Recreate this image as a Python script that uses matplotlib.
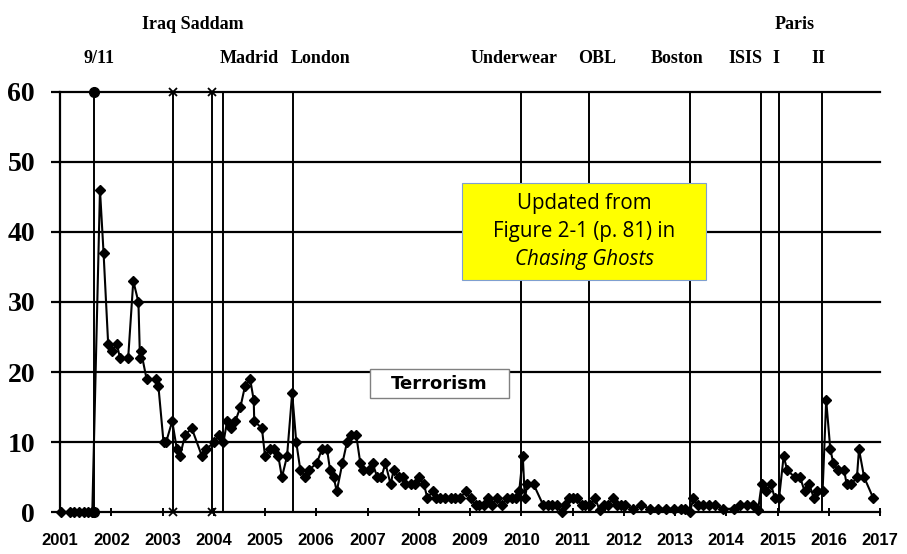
import matplotlib.pyplot as plt
from matplotlib.patches import Rectangle
from matplotlib.transforms import blended_transform_factory

# monthly-ish terrorism index (decimal year, value)
years = [2001.02, 2001.20, 2001.28, 2001.37, 2001.46, 2001.55, 2001.63, 2001.78, 2001.85, 2001.94,
         2002.01, 2002.11, 2002.17, 2002.33, 2002.43, 2002.53, 2002.56, 2002.58, 2002.69, 2002.87,
         2002.92, 2003.02, 2003.07, 2003.19, 2003.28, 2003.34, 2003.44, 2003.57, 2003.77, 2003.85,
         2004.01, 2004.11, 2004.19, 2004.26, 2004.33, 2004.42, 2004.52, 2004.61, 2004.71, 2004.78,
         2004.79, 2004.94, 2005.00, 2005.10, 2005.18, 2005.26, 2005.33, 2005.43, 2005.53, 2005.61,
         2005.69, 2005.79, 2005.85, 2006.01, 2006.11, 2006.21, 2006.27, 2006.34, 2006.40, 2006.51,
         2006.60, 2006.68, 2006.78, 2006.86, 2006.92, 2007.02, 2007.10, 2007.19, 2007.27, 2007.35,
         2007.45, 2007.51, 2007.61, 2007.69, 2007.74, 2007.84, 2007.93, 2008.01, 2008.10, 2008.17,
         2008.27, 2008.34, 2008.42, 2008.52, 2008.62, 2008.71, 2008.80, 2008.92, 2009.01, 2009.11,
         2009.17, 2009.27, 2009.35, 2009.43, 2009.53, 2009.63, 2009.72, 2009.82, 2009.89, 2009.96,
         2010.03, 2010.07, 2010.12, 2010.24, 2010.43, 2010.52, 2010.60, 2010.70, 2010.79, 2010.86,
         2010.93, 2011.01, 2011.09, 2011.18, 2011.25, 2011.35, 2011.44, 2011.53, 2011.61, 2011.69,
         2011.79, 2011.87, 2011.95, 2012.02, 2012.19, 2012.34, 2012.52, 2012.67, 2012.82, 2012.98,
         2013.11, 2013.19, 2013.29, 2013.36, 2013.44, 2013.55, 2013.66, 2013.79, 2013.94, 2014.15,
         2014.27, 2014.41, 2014.53, 2014.62, 2014.69, 2014.78, 2014.87, 2014.95, 2015.03, 2015.12,
         2015.19, 2015.34, 2015.44, 2015.53, 2015.62, 2015.71, 2015.78, 2015.88, 2015.95, 2016.03,
         2016.09, 2016.18, 2016.30, 2016.35, 2016.44, 2016.55, 2016.59, 2016.69, 2016.87]
values = [0, 0, 0, 0, 0, 0, 0, 46, 37, 24,
          23, 24, 22, 22, 33, 30, 22, 23, 19, 19,
          18, 10, 10, 13, 9, 8, 11, 12, 8, 9,
          10, 11, 10, 13, 12, 13, 15, 18, 19, 16,
          13, 12, 8, 9, 9, 8, 5, 8, 17, 10,
          6, 5, 6, 7, 9, 9, 6, 5, 3, 7,
          10, 11, 11, 7, 6, 6, 7, 5, 5, 7,
          4, 6, 5, 5, 4, 4, 4, 5, 4, 2,
          3, 2, 2, 2, 2, 2, 2, 3, 2, 1,
          1, 1, 2, 1, 2, 1, 2, 2, 2, 3,
          8, 2, 4, 4, 1, 1, 1, 1, 0, 1,
          2, 2, 2, 1, 1, 1, 2, 0.3, 1, 1,
          2, 1, 1, 1, 0.5, 1, 0.5, 0.5, 0.5, 0.5,
          0.5, 0.5, 0, 2, 1, 1, 1, 1, 0.5, 0.5,
          1, 1, 1, 0.3, 4, 3, 4, 2, 2, 8,
          6, 5, 5, 3, 4, 2, 3, 3, 16, 9,
          7, 6, 6, 4, 4, 5, 9, 5, 2]

# event dates and how the lines are capped
event_dates = [2001.67, 2003.21, 2003.96, 2004.19, 2005.54, 2010.00, 2011.33, 2013.29, 2014.67, 2015.02, 2015.87]
event_caps = ['o', 'x', 'x', None, None, None, None, None, None, None, None]

# event labels: text, x position (year), row
label_text = ['Iraq Saddam', '9/11', 'Madrid', 'London', 'Underwear', 'OBL', 'Boston', 'ISIS', 'I', 'II', 'Paris']
label_x = [2003.59, 2001.76, 2004.69, 2006.08, 2009.86, 2011.48, 2013.03, 2014.38, 2014.96, 2015.80, 2015.33]
label_row = [2, 1, 1, 1, 1, 1, 1, 1, 1, 1, 2]

year_ticks = list(range(2001, 2018))
y_ticks = [0, 10, 20, 30, 40, 50, 60]

fig = plt.figure(figsize=(9.07, 5.54), dpi=100)
ax = fig.add_axes([60 / 907, 1 - 512.3 / 554, 820 / 907, 420.6 / 554])

ax.set_xlim(2001, 2017)
ax.set_ylim(0, 60)

for s in ['top', 'right', 'bottom']:
    ax.spines[s].set_visible(False)
ax.spines['left'].set_linewidth(1.6)

# horizontal grid
for yv in y_ticks:
    ax.axhline(yv, color='black', lw=1.6, clip_on=False, zorder=1)

# event lines
for d, cap in zip(event_dates, event_caps):
    ax.plot([d, d], [0, 60], color='black', lw=1.4, zorder=2, clip_on=False)
    if cap == 'o':
        ax.plot([d, d], [0, 60], 'o', color='black', ms=7, zorder=4, clip_on=False)
    elif cap == 'x':
        ax.plot([d, d], [0, 60], 'x', color='black', ms=6, mew=1.3, zorder=4, clip_on=False)

# terrorism series
ax.plot(years, values, color='black', lw=1.5, marker='D', ms=4.8, zorder=3, clip_on=False)

ax.set_xticks(year_ticks)
ax.set_xticklabels([str(y) for y in year_ticks], fontfamily='Liberation Sans', fontweight='bold', fontsize=12)
ax.set_yticks(y_ticks)
ax.set_yticklabels([str(v) for v in y_ticks], fontfamily='Liberation Serif', fontweight='bold', fontsize=20)
ax.tick_params(axis='x', direction='inout', length=6, width=1.4, pad=12)
ax.tick_params(axis='y', direction='out', length=6.5, width=1.6, pad=11.5)

# event labels above the chart
trans = blended_transform_factory(ax.transData, ax.transAxes)
row_y = {1: 1.080, 2: 1.1586}
for t, x, r in zip(label_text, label_x, label_row):
    ax.text(x, row_y[r], t, transform=trans, ha='center', va='center',
            fontfamily='Liberation Serif', fontweight='bold', fontsize=13)

# yellow note
note_font = dict(fontfamily='Open Sans', fontsize=14.8, zorder=6, ha='center', va='center')
ax.add_patch(Rectangle((0.490, 0.552), 0.298, 0.231, transform=ax.transAxes,
                       facecolor='#FFFF00', edgecolor='#7F9FCF', lw=0.8, zorder=5))
ax.text(0.6393, (512.3 - 203.3) / 420.6, 'Updated from', transform=ax.transAxes, **note_font)
ax.text(0.6393, (512.3 - 231.7) / 420.6, 'Figure 2-1 (p. 81) in', transform=ax.transAxes, **note_font)
ax.text(0.6393, (512.3 - 259) / 420.6, 'Chasing Ghosts', transform=ax.transAxes, fontstyle='italic', **note_font)

# series label
ax.add_patch(Rectangle((0.378, 0.2718), 0.1698, 0.0689, transform=ax.transAxes,
                       facecolor='white', edgecolor='#808080', lw=1, zorder=5))
ax.text(0.4628, 0.3062, 'Terrorism', transform=ax.transAxes, ha='center', va='center',
        fontfamily='DejaVu Sans', fontweight='heavy', fontsize=13, zorder=6)

fig.savefig('out.png', dpi=100)
